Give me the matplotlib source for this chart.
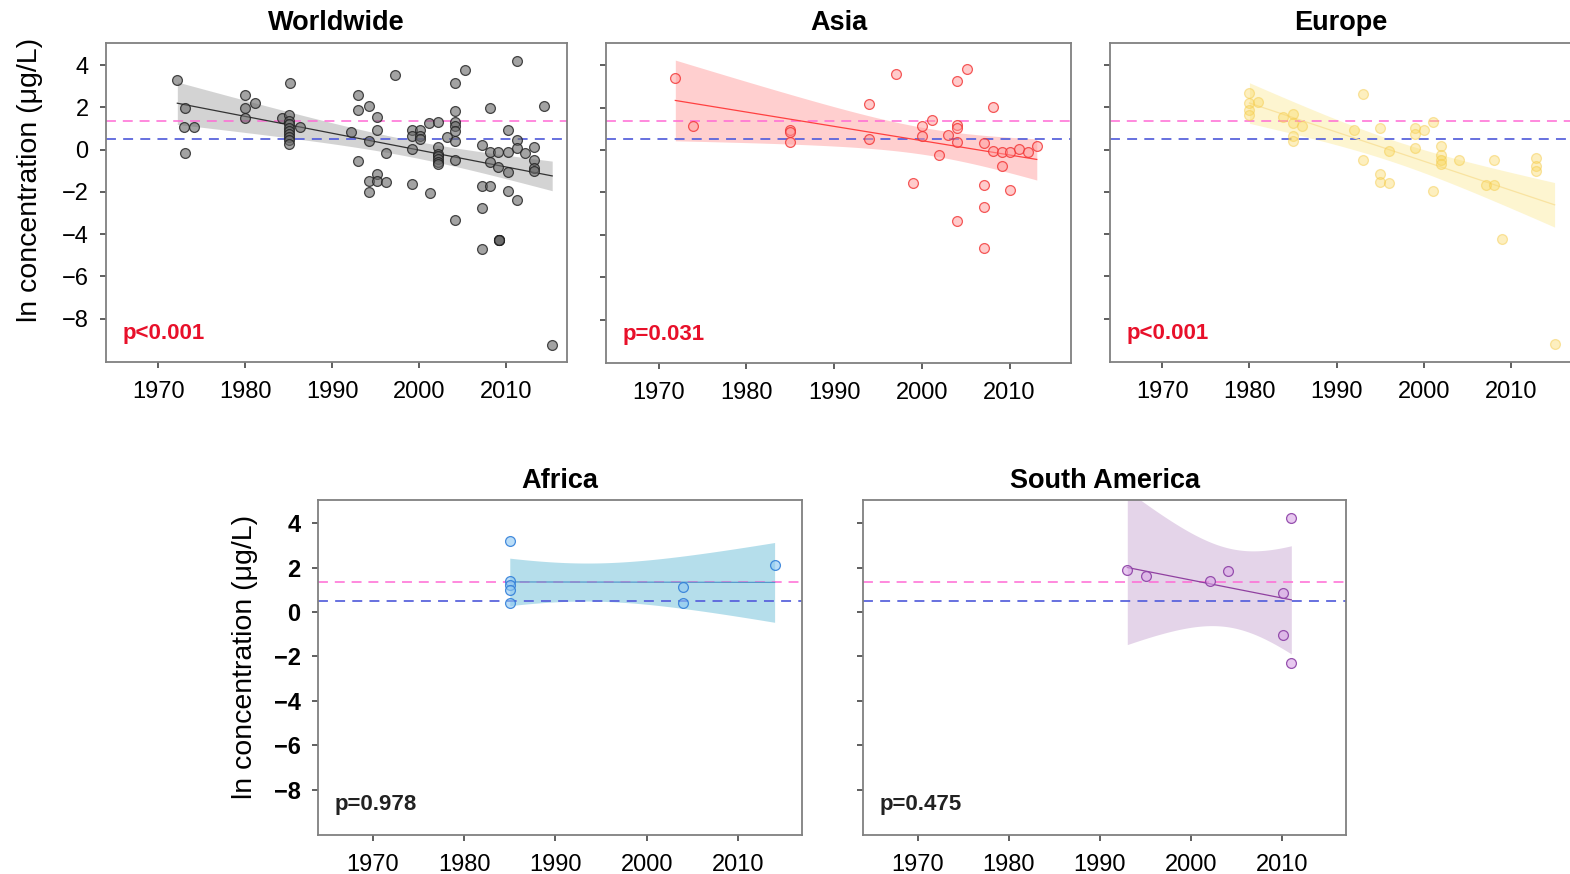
import math
import matplotlib.pyplot as plt
import numpy as np

plt.rcParams['font.family'] = ['Liberation Sans', 'DejaVu Sans']

W, H = 1570, 874

# --- data (year, ln concentration) ---
ww_year = [1972.2, 1973.1, 1973.0, 1974.1, 1973.1,
           1980.0, 1980.0, 1981.1, 1980.0, 1984.2, 1985.1, 1985.0,
           1985.0, 1985.0, 1985.0, 1985.0, 1985.0, 1985.0, 1985.0, 1985.0, 1986.3,
           1993.0, 1993.0, 1994.2, 1995.1, 1997.2, 1992.2, 1994.2, 1995.1, 1996.2,
           1993.0, 1994.2, 1994.2, 1995.1, 1995.1, 1996.2,
           1999.2, 1999.2, 2000.1, 2000.1, 2000.1, 1999.2, 1999.2, 2001.1, 2002.2, 2001.2,
           2002.2, 2002.2, 2002.2, 2002.2, 2002.2, 2002.2,
           2004.1, 2005.3, 2004.1, 2004.1, 2004.1, 2004.1, 2003.2, 2004.1, 2004.1, 2004.1,
           2007.2, 2008.2, 2008.2, 2009.1, 2010.2, 2008.2, 2009.1, 2010.2,
           2007.2, 2008.2, 2007.2, 2007.2, 2009.2, 2009.2, 2009.2, 2009.2,
           2010.2, 2011.2, 2011.2, 2011.2, 2010.2, 2011.2,
           2012.2, 2013.2, 2013.2, 2013.2, 2013.2, 2014.3, 2015.3]
ww_val = [3.32, 1.95, 1.09, 1.09, -0.14,
          2.58, 1.95, 2.19, 1.50, 1.51, 3.18, 1.65,
          1.35, 1.20, 1.05, 0.90, 0.75, 0.60, 0.45, 0.25, 1.09,
          2.58, 1.87, 2.08, 1.56, 3.53, 0.82, 0.43, 0.95, -0.17,
          -0.55, -1.50, -2.00, -1.15, -1.46, -1.54,
          0.93, 0.65, 0.93, 0.65, 0.50, 0.02, -1.64, 1.24, 1.32, -2.03,
          0.14, -0.20, -0.32, -0.45, -0.58, -0.70,
          3.18, 3.77, 1.84, 1.30, 1.10, 0.90, 0.61, 0.40, -0.47, -3.34,
          0.22, 1.95, -0.09, -0.09, -0.09, -0.57, -0.80, -1.04,
          -1.72, -1.72, -2.75, -4.69, -4.27, -4.27, -4.27, -4.27,
          0.92, 4.19, 0.44, 0.09, -1.97, -2.40,
          -0.17, 0.14, -0.49, -0.87, -1.03, 2.06, -9.24]

asia_year = [1971.9, 1973.9, 1985.0, 1985.0, 1985.0, 1994.0, 1994.0, 1997.1, 1999.0,
             2000.0, 2000.0, 2001.1, 2002.0, 2003.0, 2004.0, 2004.0, 2004.0, 2004.0, 2004.0,
             2005.1, 2007.1, 2007.1, 2007.1, 2007.1, 2008.1, 2008.1, 2009.1, 2010.1,
             2011.1, 2009.1, 2010.1, 2012.1, 2013.1]
asia_val = [3.39, 1.14, 0.95, 0.85, 0.36, 2.16, 0.52, 3.61, -1.55,
            1.11, 0.64, 1.43, -0.22, 0.72, 3.26, 1.20, 1.05, 0.36, -3.37,
            3.84, 0.31, -1.66, -2.67, -4.61, 2.04, -0.03, -0.11, -0.08,
            0.05, -0.74, -1.88, -0.11, 0.20]

eu_year = [1980.0, 1980.0, 1981.0, 1980.0, 1980.0, 1983.9, 1985.0, 1985.0, 1986.0,
           1985.0, 1985.0, 1993.0, 1992.0, 1993.0, 1995.0, 1996.0, 1995.0, 1995.0,
           1996.0, 1999.0, 1999.0, 2000.0, 1999.0, 2001.0, 2001.0, 2002.0, 2002.0,
           2002.0, 2002.0, 2004.0, 2008.0, 2007.1, 2008.0, 2009.0, 2012.9, 2012.9,
           2012.9, 2015.0]
eu_val = [2.67, 2.20, 2.26, 1.90, 1.66, 1.57, 1.70, 1.27, 1.10,
          0.63, 0.39, 2.64, 0.91, -0.50, 1.02, -0.08, -1.13, -1.53,
          -1.57, 1.02, 0.75, 0.94, 0.08, 1.29, -1.97, 0.16, -0.24,
          -0.47, -0.66, -0.47, -0.50, -1.65, -1.65, -4.21, -0.39, -0.75,
          -1.02, -9.20]

af_year = [1985.0, 1985.0, 1985.0, 1985.0, 1985.0, 2004.0, 2004.0, 2014.0]
af_val = [3.19, 1.38, 1.20, 1.01, 0.41, 1.11, 0.41, 2.10]

sa_year = [1993.0, 1995.0, 2002.1, 2004.05, 2010.1, 2010.1, 2011.0, 2011.0]
sa_val = [1.91, 1.64, 1.39, 1.87, 0.86, -1.03, 4.25, -2.31]

p_labels = ['p<0.001', 'p=0.031', 'p<0.001', 'p=0.978', 'p=0.475']
ref_pink = 1.37
ref_blue = 0.50
year_ticks = [1970, 1980, 1990, 2000, 2010]
val_ticks = [4, 2, 0, -2, -4, -6, -8]


def t975(df):
    # 97.5% quantile of Student t, by integrating the density
    xs = np.linspace(0, 12, 24001)
    c = math.gamma((df + 1) / 2) / (math.sqrt(df * math.pi) * math.gamma(df / 2))
    pdf = c * (1 + xs ** 2 / df) ** (-(df + 1) / 2)
    cdf = 0.5 + np.cumsum(pdf) * (xs[1] - xs[0])
    return xs[np.searchsorted(cdf, 0.975)]


def fit_band(x, y):
    x = np.asarray(x)
    y = np.asarray(y)
    n = len(x)
    b, a = np.polyfit(x, y, 1)
    xx = np.linspace(x.min(), x.max(), 120)
    yy = a + b * xx
    s = np.sqrt(np.sum((y - (a + b * x)) ** 2) / (n - 2))
    se = s * np.sqrt(1 / n + (xx - x.mean()) ** 2 / np.sum((x - x.mean()) ** 2))
    t = t975(n - 2)
    return xx, yy, yy - t * se, yy + t * se


fig = plt.figure(figsize=(W / 100, H / 100), dpi=100)


def panel(box, title, x, y, face, edge, band, line, ptxt, pcol,
          ylabel_at=None, bold_ticks=False, ylabels=True):
    l, t, r, b = box
    ax = fig.add_axes([l / W, 1 - b / H, (r - l) / W, (b - t) / H])
    xx, yy, lo, hi = fit_band(x, y)
    ax.fill_between(xx, lo, hi, color=band, lw=0, zorder=1)
    ax.axhline(ref_pink, color='#ff6ad5', lw=1.1, dashes=(6.5, 4.5), zorder=2)
    ax.axhline(ref_blue, color='#5a64dc', lw=1.3, dashes=(5.5, 4), zorder=2)
    ax.plot(xx, yy, color=line, lw=0.9, zorder=3)
    ax.scatter(x, y, s=50, facecolor=face, edgecolor=edge, linewidths=0.9, zorder=4)
    ax.set_xlim(1964, 2017)
    ax.set_ylim(-10.05, 5.05)
    ax.set_xticks(year_ticks)
    ax.set_yticks(val_ticks)
    ax.set_yticklabels([str(v).replace('-', '\u2212') for v in val_ticks] if ylabels else [])
    ax.tick_params(direction='out', length=4.5, width=1.1, color='#333333',
                   labelsize=17, labelcolor='black')
    ax.tick_params(axis='y', pad=8)
    ax.tick_params(axis='x', pad=9)
    if bold_ticks:
        for lab in ax.get_yticklabels():
            lab.set_fontweight('bold')
    for sp in ax.spines.values():
        sp.set_color('#808080')
        sp.set_linewidth(1.3)
    ax.set_title(title, fontsize=19.5, fontweight='bold', pad=9)
    ax.text(0.035, 0.09, ptxt, transform=ax.transAxes, color=pcol,
            fontsize=16, fontweight='bold', va='center', ha='left')
    if ylabel_at is not None:
        ax.set_ylabel('ln concentration (\u03bcg/L)', fontsize=20.5)
        ax.yaxis.set_label_coords(*ylabel_at)
    return ax


panel((106, 43, 567, 362), 'Worldwide', ww_year, ww_val,
      (0.42, 0.42, 0.42, 0.62), (0.12, 0.12, 0.12, 0.8), (0.69, 0.69, 0.69, 0.55),
      '#333333', p_labels[0], '#e8102a', ylabel_at=(-0.137, 0.57))
panel((606, 43, 1071, 363), 'Asia', asia_year, asia_val,
      (1.0, 0.6, 0.6, 0.5), (0.95, 0.2, 0.2, 0.8), (1.0, 0.78, 0.78, 0.85),
      '#ff4040', p_labels[1], '#e8102a', ylabels=False)
panel((1110, 43, 1572, 362), 'Europe', eu_year, eu_val,
      (0.98, 0.84, 0.35, 0.38), (0.96, 0.8, 0.3, 0.5), (0.99, 0.94, 0.72, 0.65),
      '#f9e3a0', p_labels[2], '#e8102a', ylabels=False)
panel((318, 500, 802, 835), 'Africa', af_year, af_val,
      (0.55, 0.78, 0.95, 0.6), (0.2, 0.5, 0.85, 0.9), (0.66, 0.85, 0.91, 0.85),
      '#5599cc', p_labels[3], '#222222', ylabel_at=(-0.124, 0.531), bold_ticks=True)
panel((863, 500, 1346, 835), 'South America', sa_year, sa_val,
      (0.85, 0.65, 0.9, 0.6), (0.55, 0.25, 0.65, 0.9), (0.85, 0.76, 0.88, 0.7),
      '#9040a0', p_labels[4], '#222222', ylabels=False)

fig.savefig('out.png', dpi=100, facecolor='white')
